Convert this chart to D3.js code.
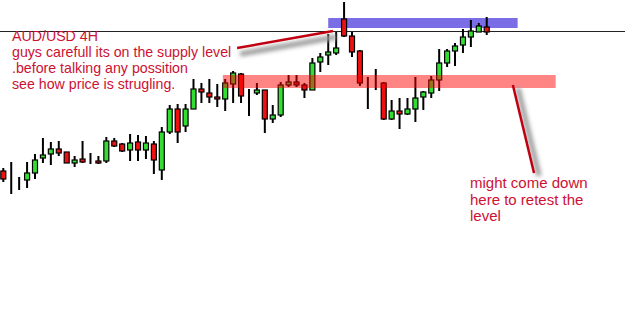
<!DOCTYPE html>
<html>
<head>
<meta charset="utf-8">
<script src="https://cdn.jsdelivr.net/npm/d3@7"></script>
<style>
  body { margin: 0; background: #fff; }
  svg { display: block; }
</style>
</head>
<body>
<script>
// AUD/USD 4H candles
const open = [1.0429,1.0421,1.0421,1.0420,1.0427,1.0442,1.0446,1.0451,1.0448,1.0437,1.0441,1.0439,1.0439,1.0439,1.0459,1.0456,1.0450,1.0458,1.0450,1.0456,1.0430,1.0468,1.0491,1.0474,1.0491,1.0511,1.0507,1.0503,1.0501,1.0516,1.0526,1.0507,1.0507,1.0510,1.0481,1.0485,1.0515,1.0518,1.0515,1.0510,1.0538,1.0545,1.0547,1.0581,1.0564,1.0549,1.0518,1.0518,1.0517,1.0481,1.0489,1.0486,1.0491,1.0503,1.0507,1.0520,1.0537,1.0549,1.0555,1.0563,1.0568,1.0573];
const close = [1.0421,1.0421,1.0421,1.0427,1.0440,1.0445,1.0451,1.0447,1.0437,1.0440,1.0438,1.0439,1.0437,1.0459,1.0454,1.0449,1.0457,1.0450,1.0457,1.0440,1.0468,1.0491,1.0468,1.0491,1.0511,1.0508,1.0503,1.0501,1.0517,1.0527,1.0504,1.0507,1.0510,1.0481,1.0485,1.0515,1.0518,1.0515,1.0510,1.0537,1.0543,1.0548,1.0552,1.0564,1.0548,1.0517,1.0518,1.0518,1.0481,1.0489,1.0486,1.0491,1.0502,1.0508,1.0520,1.0537,1.0549,1.0554,1.0563,1.0569,1.0574,1.0568];
const high = [1.0432,1.0438,1.0423,1.0438,1.0446,1.0462,1.0458,1.0459,1.0448,1.0444,1.0459,1.0447,1.0444,1.0463,1.0462,1.0457,1.0466,1.0465,1.0464,1.0459,1.0473,1.0495,1.0496,1.0496,1.0521,1.0517,1.0521,1.0516,1.0521,1.0529,1.0527,1.0511,1.0517,1.0510,1.0495,1.0518,1.0525,1.0525,1.0517,1.0542,1.0547,1.0566,1.0568,1.0598,1.0568,1.0550,1.0523,1.0531,1.0518,1.0500,1.0502,1.0502,1.0523,1.0509,1.0524,1.0551,1.0551,1.0557,1.0571,1.0580,1.0577,1.0583];
const low = [1.0418,1.0406,1.0410,1.0412,1.0421,1.0437,1.0435,1.0444,1.0437,1.0433,1.0437,1.0436,1.0436,1.0437,1.0453,1.0448,1.0439,1.0439,1.0441,1.0426,1.0420,1.0466,1.0457,1.0468,1.0491,1.0497,1.0497,1.0493,1.0489,1.0497,1.0497,1.0484,1.0505,1.0467,1.0477,1.0483,1.0513,1.0513,1.0502,1.0510,1.0528,1.0535,1.0545,1.0563,1.0543,1.0514,1.0491,1.0510,1.0480,1.0480,1.0471,1.0485,1.0478,1.0490,1.0502,1.0509,1.0533,1.0534,1.0547,1.0553,1.0568,1.0565];

// zones and marks (candle index / price)
const supply = {x0: 41.0, x1: 64.9, top: 1.0582, bottom: 1.0572};
const demand = {x0: 27.7, x1: 69.7, top: 1.0525, bottom: 1.0512};
const level = 1.0569;
const arrow1 = [[29.5, 1.0552], [41.6, 1.0569]];
const arrow2 = [[64.3, 1.0515], [66.97, 1.0427]];

const noteLeft = ["AUD/USD 4H", "guys carefull its on the supply level", ".before talking any possition", "see how price is strugling."];
const noteRight = ["might come down", "here to retest the", "level"];

const W = 625;
const H = 330;
const txtColor = "#cc1133";

const svg = d3.select("body")
  .append("svg")
  .attr("width", W)
  .attr("height", H);

const defs = svg.append("defs");
defs.append("filter")
  .attr("id", "blur")
  .attr("x", "-50%").attr("y", "-50%")
  .attr("width", "200%").attr("height", "200%")
  .append("feGaussianBlur")
  .attr("stdDeviation", 2);

const xScale = d3.scaleLinear()
  .domain([0, 78])
  .range([3.3, 3.3 + 78 * 7.925]);

const yScale = d3.scaleLinear()
  .domain([1.0270, 1.0600])
  .range([H, 0]);

const data = open.map((o, i) => ({i: i, o: o, c: close[i], h: high[i], l: low[i]}));

svg.append("rect")
  .attr("width", W)
  .attr("height", H)
  .attr("fill", "#fff");

// supply zone sits behind the candles
svg.append("rect")
  .attr("x", xScale(supply.x0))
  .attr("y", yScale(supply.top))
  .attr("width", xScale(supply.x1) - xScale(supply.x0))
  .attr("height", yScale(supply.bottom) - yScale(supply.top))
  .attr("fill", "#7a6de6");

svg.append("line")
  .attr("x1", 0)
  .attr("x2", W)
  .attr("y1", Math.round(yScale(level)) + 0.5)
  .attr("y2", Math.round(yScale(level)) + 0.5)
  .attr("stroke", "#222")
  .attr("stroke-width", 1);

const candles = svg.selectAll("g.candle")
  .data(data)
  .enter()
  .append("g")
  .attr("class", "candle");

candles.append("line")
  .attr("x1", (d) => xScale(d.i))
  .attr("x2", (d) => xScale(d.i))
  .attr("y1", (d) => yScale(d.h))
  .attr("y2", (d) => yScale(d.l))
  .attr("stroke", "#000")
  .attr("stroke-width", 2);

candles.append("rect")
  .attr("x", (d) => xScale(d.i) - 2.5)
  .attr("y", (d) => yScale(Math.max(d.o, d.c)))
  .attr("width", 5)
  .attr("height", (d) => Math.abs(yScale(d.o) - yScale(d.c)))
  .attr("fill", (d) => d.c > d.o ? "#33dd33" : (d.c < d.o ? "#ee1111" : "#000"))
  .attr("stroke", "#000")
  .attr("stroke-width", 1.2);

// demand zone drawn over the candles, see-through
svg.append("rect")
  .attr("x", xScale(demand.x0))
  .attr("y", yScale(demand.top))
  .attr("width", xScale(demand.x1) - xScale(demand.x0))
  .attr("height", yScale(demand.bottom) - yScale(demand.top))
  .attr("fill", "#ff0000")
  .attr("opacity", 0.48);

// arrows with their grey shadow
function drawArrow(pts, dx, dy) {
  svg.append("line")
    .attr("x1", xScale(pts[0][0]) + dx)
    .attr("y1", yScale(pts[0][1]) + dy)
    .attr("x2", xScale(pts[1][0]) + dx)
    .attr("y2", yScale(pts[1][1]) + dy)
    .attr("stroke", "#999")
    .attr("stroke-width", 5)
    .attr("filter", "url(#blur)");
  svg.append("line")
    .attr("x1", xScale(pts[0][0]))
    .attr("y1", yScale(pts[0][1]))
    .attr("x2", xScale(pts[1][0]))
    .attr("y2", yScale(pts[1][1]))
    .attr("stroke", "#c00010")
    .attr("stroke-width", 2.5);
}
drawArrow(arrow1, 3, 6);
drawArrow(arrow2, 5, 3);

svg.append("g")
  .selectAll("text")
  .data(noteLeft)
  .enter()
  .append("text")
  .attr("x", 12)
  .attr("y", (d, i) => 41 + i * 16)
  .text((d) => d)
  .style("font-family", "Liberation Sans, Arial, sans-serif")
  .style("font-size", "14.2px")
  .attr("fill", txtColor);

svg.append("g")
  .selectAll("text")
  .data(noteRight)
  .enter()
  .append("text")
  .attr("x", 470)
  .attr("y", (d, i) => 188 + i * 16.5)
  .text((d) => d)
  .style("font-family", "Liberation Sans, Arial, sans-serif")
  .style("font-size", "15px")
  .attr("fill", txtColor);
</script>
</body>
</html>
